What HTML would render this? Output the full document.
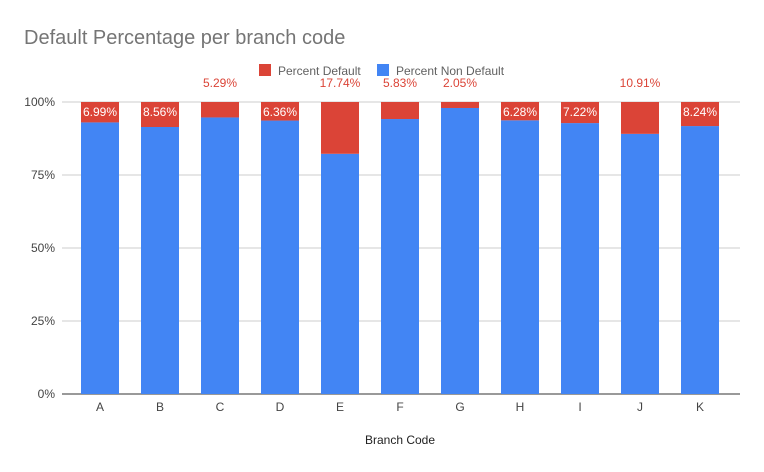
<!DOCTYPE html>
<html><head><meta charset="utf-8"><style>
body{margin:0;background:#fff;font-family:"Liberation Sans",Arial,sans-serif}
svg{display:block}
</style></head><body>
<svg width="764" height="472" viewBox="0 0 764 472">
<rect width="764" height="472" fill="#fff"/>
<text x="24" y="44" font-size="20" fill="#757575">Default Percentage per branch code</text>
<g>
<g><rect x="259" y="64" width="12" height="12" fill="#db4437"/><text x="278" y="75" font-size="12" fill="#616161">Percent Default</text></g>
<g><rect x="377" y="64" width="12" height="12" fill="#4285f4"/><text x="396" y="75" font-size="12" fill="#616161">Percent Non Default</text></g>
</g>
<g id="grid"></g>
<g id="bars"></g>
<g id="labels"></g>
<text x="400" y="444" font-size="12" fill="#222" text-anchor="middle">Branch Code</text>
</svg>
<script>
const categories=["A","B","C","D","E","F","G","H","I","J","K"];
const defaultPct=[6.99,8.56,5.29,6.36,17.74,5.83,2.05,6.28,7.22,10.91,8.24];
const labelOutside=[false,false,true,false,true,true,true,false,false,true,false];
const yTicks=[0,25,50,75,100];
const yTickLabels=["0%","25%","50%","75%","100%"];
const NS="http://www.w3.org/2000/svg";
const x0=70,band=60,barW=38,yTop=102,yBot=394;
const y=v=>yBot-(v/100)*(yBot-yTop);
const xc=i=>x0+band*i+band/2;
function mk(t,a,p){const e=document.createElementNS(NS,t);for(const k in a)e.setAttribute(k,a[k]);p.appendChild(e);return e;}
const grid=document.getElementById('grid'),bars=document.getElementById('bars'),labels=document.getElementById('labels');
yTicks.forEach((t,i)=>{
 const l=mk('line',{x1:62,x2:740,y1:y(t),y2:y(t),stroke:t===0?'#333':'#ccc','stroke-width':1},grid);
 
 
 const tx=mk('text',{x:55,y:y(t)+4,'font-size':12,fill:'#444','text-anchor':'end'},grid);
 tx.textContent=yTickLabels[i];
 
 
});
categories.forEach((c,i)=>{
 const d=defaultPct[i],nd=100-d,cx=xc(i);
 const b1=mk('rect',{x:cx-barW/2,y:y(nd),width:barW,height:yBot-y(nd),fill:'#4285f4'},bars);
 
 
 const b2=mk('rect',{x:cx-barW/2,y:y(100),width:barW,height:y(nd)-y(100),fill:'#db4437'},bars);
 
 
 const out=labelOutside[i];
 const t=mk('text',{x:cx,y:out?87:116,'font-size':12,fill:out?'#db4437':'#fff','text-anchor':'middle'},labels);
 t.textContent=d.toFixed(2)+'%';
 
 
 const xl=mk('text',{x:cx,y:411,'font-size':12,fill:'#444','text-anchor':'middle'},labels);
 xl.textContent=c;
 
 
});
</script>
</body></html>
